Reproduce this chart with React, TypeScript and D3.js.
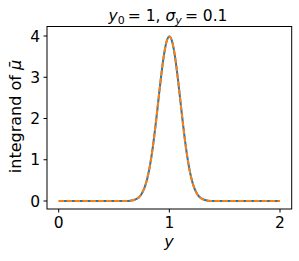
import React from "react";
import * as d3 from "d3";

const xs = [0, 0.25, 0.5, 0.6, 0.65, 0.7, 0.725, 0.75, 0.775, 0.8, 0.825, 0.85, 0.875, 0.9, 0.925, 0.95, 0.975, 1.0, 1.025, 1.05, 1.075, 1.1, 1.125, 1.15, 1.175, 1.2, 1.225, 1.25, 1.275, 1.3, 1.35, 1.4, 1.5, 1.75, 2.0];
const ys = [0, 0, 0, 0.0013, 0.0087, 0.044, 0.091, 0.175, 0.317, 0.54, 0.863, 1.295, 1.826, 2.42, 3.011, 3.52, 3.866, 3.989, 3.866, 3.52, 3.011, 2.42, 1.826, 1.295, 0.863, 0.54, 0.317, 0.175, 0.091, 0.044, 0.0087, 0.0013, 0, 0, 0];
const xTicks = [0, 1, 2];
const yTicks = [0, 1, 2, 3, 4];

const W = 299, H = 261;
const L = 47, R = 291.7, T = 26.5, B = 209;

export default function App() {
  const x = d3.scaleLinear().domain([0, 2]).range([58.7, 280]);
  const y = d3.scaleLinear().domain([0, 4]).range([201, 36]);
  const pts: [number, number][] = xs.map((v, i) => [v, ys[i]]);
  const line = d3.line<[number, number]>().x(d => x(d[0])).y(d => y(d[1])).curve(d3.curveMonotoneX);
  const path = line(pts) || "";
  const font = "DejaVu Sans, sans-serif";
  return (
    <svg width={W} height={H} style={{ position: "fixed", left: 0, top: 0, background: "#fff" }} fontFamily={font}>
      <rect x={0} y={0} width={W} height={H} fill="#fff" />
      <path d={path} fill="none" stroke="#1f77b4" strokeWidth={2} />
      <path d={path} fill="none" stroke="#ff7f0e" strokeWidth={2} strokeDasharray="5.5,2.4" />
      <rect x={L} y={T} width={R - L} height={B - T} fill="none" stroke="#000" strokeWidth={1} />
      {xTicks.map(t => (
        <g key={"x" + t}>
          <line x1={x(t)} x2={x(t)} y1={B} y2={B + 3.5} stroke="#000" strokeWidth={1} />
          <text x={x(t)} y={228} textAnchor="middle" fontSize={15.5} fill="#000">{t}</text>
        </g>
      ))}
      {yTicks.map(t => (
        <g key={"y" + t}>
          <line x1={L - 3.5} x2={L} y1={y(t)} y2={y(t)} stroke="#000" strokeWidth={1} />
          <text x={40} y={y(t)} dy="0.36em" textAnchor="end" fontSize={15.5} fill="#000">{t}</text>
        </g>
      ))}
      <text x={169} y={247} textAnchor="middle" fontSize={16} fontStyle="italic" fill="#000">y</text>
      <text transform={`translate(20.7,116.5) rotate(-90)`} textAnchor="middle" fontSize={16} fill="#000">
        integrand of <tspan fontStyle="italic">μ̄</tspan>
      </text>
      <text x={168} y={21} textAnchor="middle" fontSize={15.5} fill="#000">
        <tspan fontStyle="italic">y</tspan>
        <tspan fontSize={11} dy={3}>0</tspan>
        <tspan dy={-3}>{"\u2009= 1, "}</tspan>
        <tspan fontStyle="italic">σ</tspan>
        <tspan fontSize={11} fontStyle="italic" dy={3}>y</tspan>
        <tspan dy={-3}>{"\u2009= 0.1"}</tspan>
      </text>
    </svg>
  );
}
